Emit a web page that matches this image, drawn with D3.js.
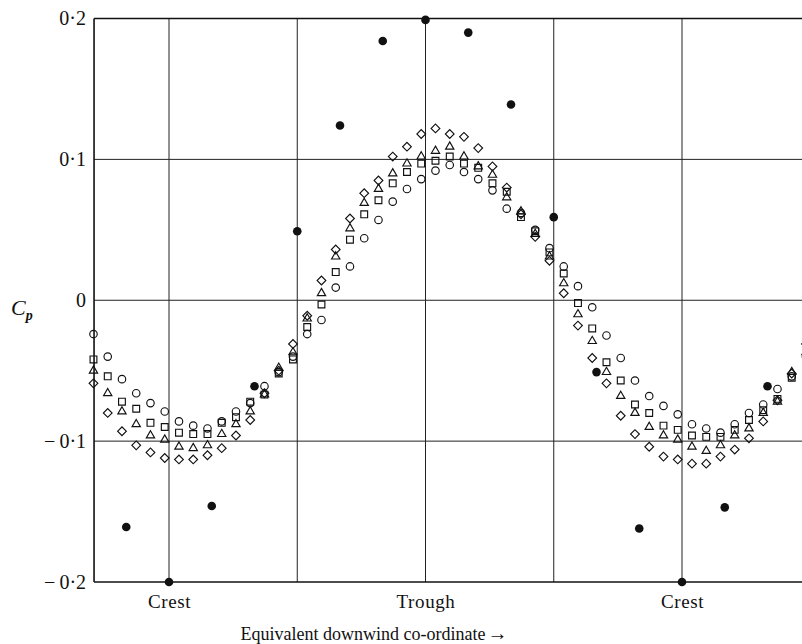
<!DOCTYPE html>
<html>
<head>
<meta charset="utf-8">
<script src="https://cdn.jsdelivr.net/npm/d3@7"></script>
<style>
  body { margin: 0; background: #fff; }
  text { font-family: "Liberation Serif", "Times New Roman", serif; fill: #111; }
</style>
</head>
<body>
<svg id="chart" width="802" height="644"></svg>
<script>
// Wave phase in degrees (0 = crest, 180 = trough, 360 = next crest)
const phase = [-53, -43, -33, -23, -13, -3, 7, 17, 27, 37, 47, 57, 67, 77, 87,
  97, 107, 117, 127, 137, 147, 157, 167, 177, 187, 197, 207, 217, 227, 237,
  247, 257, 267, 277, 287, 297, 307, 317, 327, 337, 347, 357, 367, 377, 387,
  397, 407, 417, 427, 437, 447];

// Pressure coefficient, one array per open-symbol series
const cpCircle = [-0.024, -0.040, -0.056, -0.066, -0.073, -0.079, -0.086, -0.089, -0.091, -0.086,
  -0.079, -0.073, -0.061, -0.051, -0.040, -0.024, -0.014, 0.009, 0.024, 0.044,
  0.057, 0.070, 0.079, 0.086, 0.092, 0.096, 0.091, 0.086, 0.078, 0.065,
  0.062, 0.050, 0.037, 0.024, 0.010, -0.005, -0.025, -0.041, -0.057, -0.068,
  -0.075, -0.081, -0.088, -0.091, -0.094, -0.088, -0.080, -0.074, -0.063, -0.054, -0.040];

const cpSquare = [-0.042, -0.054, -0.072, -0.077, -0.087, -0.090, -0.094, -0.095, -0.095, -0.087,
  -0.083, -0.072, -0.067, -0.052, -0.042, -0.019, -0.003, 0.020, 0.043, 0.061,
  0.071, 0.083, 0.091, 0.097, 0.099, 0.102, 0.097, 0.094, 0.083, 0.077,
  0.059, 0.049, 0.034, 0.019, -0.002, -0.020, -0.044, -0.057, -0.074, -0.080,
  -0.089, -0.092, -0.096, -0.097, -0.097, -0.092, -0.085, -0.078, -0.070, -0.055, -0.042];

const cpTriangle = [-0.050, -0.066, -0.079, -0.088, -0.096, -0.099, -0.104, -0.105, -0.103, -0.095,
  -0.088, -0.079, -0.067, -0.048, -0.037, -0.013, 0.005, 0.031, 0.051, 0.069,
  0.079, 0.090, 0.097, 0.102, 0.106, 0.109, 0.102, 0.095, 0.089, 0.073,
  0.063, 0.047, 0.031, 0.012, -0.010, -0.029, -0.051, -0.068, -0.080, -0.090,
  -0.096, -0.099, -0.104, -0.107, -0.103, -0.096, -0.091, -0.080, -0.072, -0.051, -0.037];

const cpDiamond = [-0.059, -0.080, -0.093, -0.103, -0.108, -0.112, -0.113, -0.113, -0.110, -0.105,
  -0.096, -0.085, -0.066, -0.050, -0.031, -0.011, 0.014, 0.036, 0.058, 0.076,
  0.085, 0.102, 0.109, 0.118, 0.122, 0.118, 0.116, 0.108, 0.095, 0.080,
  0.061, 0.045, 0.028, 0.005, -0.018, -0.041, -0.059, -0.082, -0.095, -0.104,
  -0.111, -0.113, -0.116, -0.116, -0.111, -0.106, -0.098, -0.086, -0.071, -0.052, -0.031];

// Filled-circle series, sampled every 30 degrees
const phaseSolid = [-30, 0, 30, 60, 90, 120, 150, 180, 210, 240, 270, 300, 330, 360, 390, 420];
const cpSolid = [-0.161, -0.200, -0.146, -0.061, 0.049, 0.124, 0.184, 0.199, 0.190, 0.139,
  0.059, -0.051, -0.162, -0.200, -0.147, -0.061];

// Axis annotations
const yTicks = [-0.2, -0.1, 0, 0.1, 0.2];
const yTickLabels = ["\u2212\u20090\u00b72", "\u2212\u20090\u00b71", "0", "0\u00b71", "0\u00b72"];
const yGrid = [-0.1, 0, 0.1];
const xGrid = [0, 90, 180, 270, 360];
const xMarks = [0, 180, 360];
const xMarkLabels = ["Crest", "Trough", "Crest"];

const svg = d3.select("#chart");
const W = 802;

const x = d3.scaleLinear().domain([0, 360]).range([169, 682]);
const y = d3.scaleLinear().domain([-0.2, 0.2]).range([582, 18.5]);
const xLeft = x(-52.6);

// Grid lines
const grid = svg.append("g").attr("stroke", "#222").attr("stroke-width", 1);
grid.selectAll("line.v").data(xGrid).join("line")
  .attr("class", "v")
  .attr("x1", d => x(d)).attr("x2", d => x(d))
  .attr("y1", y(0.2)).attr("y2", y(-0.2));
grid.selectAll("line.h").data(yGrid).join("line")
  .attr("class", "h")
  .attr("x1", xLeft).attr("x2", W)
  .attr("y1", d => y(d)).attr("y2", d => y(d));

// Frame: left, top and bottom edges
const frame = svg.append("g").attr("stroke", "#111").attr("stroke-width", 1.6);
frame.append("line").attr("x1", xLeft).attr("x2", xLeft).attr("y1", y(0.2)).attr("y2", y(-0.2));
frame.append("line").attr("x1", xLeft).attr("x2", W).attr("y1", y(0.2)).attr("y2", y(0.2));
frame.append("line").attr("x1", xLeft).attr("x2", W).attr("y1", y(-0.2)).attr("y2", y(-0.2));

// Y tick labels
const yAxis = d3.axisLeft(y)
  .tickValues(yTicks)
  .tickFormat((d, i) => yTickLabels[i])
  .tickSize(0)
  .tickPadding(8);
const gy = svg.append("g").attr("transform", `translate(${xLeft},0)`).call(yAxis);
gy.select(".domain").remove();
gy.selectAll("text")
  .attr("font-family", "\"Liberation Serif\", serif")
  .attr("font-size", 20)
  .attr("fill", "#111");

// Crest / trough labels
const xAxis = d3.axisBottom(x)
  .tickValues(xMarks)
  .tickFormat((d, i) => xMarkLabels[i])
  .tickSize(0)
  .tickPadding(13);
const gx = svg.append("g").attr("transform", `translate(0,${y(-0.2)})`).call(xAxis);
gx.select(".domain").remove();
gx.selectAll("text")
  .attr("font-family", "\"Liberation Serif\", serif")
  .attr("font-size", 19)
  .attr("letter-spacing", "0.6px")
  .attr("fill", "#111");

// Axis titles
const xt = svg.append("text")
  .attr("x", 374).attr("y", 640)
  .attr("text-anchor", "middle")
  .attr("font-size", 18);
xt.append("tspan").text("Equivalent downwind co-ordinate");
xt.append("tspan").attr("font-size", 20).attr("dx", 2).text("\u2192");

const cp = svg.append("text").attr("x", 11).attr("y", 315).attr("font-size", 22).attr("font-style", "italic");
cp.append("tspan").text("C");
cp.append("tspan").attr("font-size", 14).attr("dy", 5).attr("font-weight", "bold").text("p");

// Data series
const series = [
  { values: cpCircle, sym: d3.symbolCircle, size: 44, rot: 0 },
  { values: cpSquare, sym: d3.symbolSquare, size: 46, rot: 0 },
  { values: cpTriangle, sym: d3.symbolTriangle, size: 30, rot: 0 },
  { values: cpDiamond, sym: d3.symbolSquare, size: 38, rot: 45 }
];

const marks = svg.append("g");
series.forEach(s => {
  const path = d3.symbol().type(s.sym).size(s.size)();
  marks.append("g").selectAll("path")
    .data(phase.map((p, i) => [p, s.values[i]]))
    .join("path")
    .attr("d", path)
    .attr("transform", d => `translate(${x(d[0])},${y(d[1])}) rotate(${s.rot})`)
    .attr("fill", "none")
    .attr("stroke", "#111")
    .attr("stroke-width", 1.15);
});

marks.append("g").selectAll("circle")
  .data(phaseSolid.map((p, i) => [p, cpSolid[i]]))
  .join("circle")
  .attr("cx", d => x(d[0]))
  .attr("cy", d => y(d[1]))
  .attr("r", 4.3)
  .attr("fill", "#111");
</script>
</body>
</html>
